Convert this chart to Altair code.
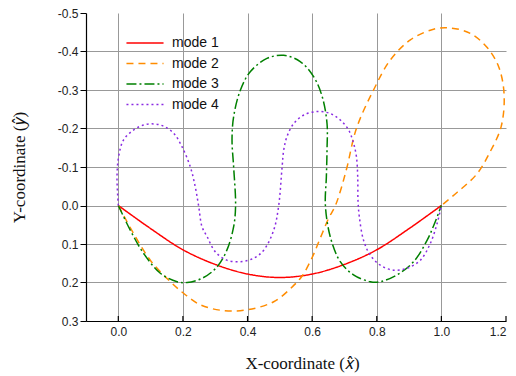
import altair as alt
import pandas as pd

modes = ["mode 1", "mode 2", "mode 3", "mode 4"]
colors = ["#ff0000", "#ff8c00", "#008000", "#8a2be2"]
dashes = [[1, 0], [7, 5], [10, 3, 2, 3], [2, 3]]

x1 = [0, 0.1, 0.2, 0.3, 0.4, 0.5, 0.6, 0.7, 0.8, 0.9, 1.0]
y1 = [0, 0.06, 0.115, 0.153, 0.178, 0.187, 0.178, 0.153, 0.115, 0.06, 0]

x2 = [0, 0.047, 0.099, 0.161, 0.202, 0.254, 0.326, 0.398, 0.481, 0.54, 0.569, 0.6,
      0.625, 0.65, 0.672, 0.69, 0.708, 0.737, 0.79, 0.842, 0.904, 0.976, 1.028,
      1.09, 1.141, 1.177, 1.194, 1.185, 1.15, 1.11, 1.05, 1.0]
y2 = [0, 0.072, 0.142, 0.198, 0.228, 0.258, 0.273, 0.271, 0.25, 0.21, 0.183, 0.135,
      0.085, 0.035, 0, -0.045, -0.1, -0.2, -0.3, -0.378, -0.43, -0.458, -0.461,
      -0.447, -0.411, -0.361, -0.29, -0.205, -0.138, -0.082, -0.035, 0]

x3 = [0, 0.037, 0.078, 0.13, 0.182, 0.213, 0.264, 0.306, 0.336, 0.357, 0.363, 0.357,
      0.352, 0.357, 0.378, 0.409, 0.46, 0.512, 0.563, 0.605, 0.631, 0.646, 0.646,
      0.644, 0.641, 0.656, 0.687, 0.728, 0.78, 0.811, 0.863, 0.914, 0.956, 0.981, 1.0]
y3 = [0, 0.064, 0.124, 0.176, 0.198, 0.2, 0.187, 0.159, 0.116, 0.055, 0.0, -0.1,
      -0.17, -0.231, -0.3, -0.348, -0.382, -0.39, -0.374, -0.334, -0.283, -0.213, -0.144,
      -0.075, 0.0, 0.081, 0.146, 0.18, 0.198, 0.198, 0.18, 0.146, 0.09, 0.042, 0]

x4 = [0, -0.004, 0.001, 0.016, 0.047, 0.078, 0.109, 0.14, 0.171, 0.197, 0.223, 0.238,
      0.249, 0.259, 0.275, 0.3, 0.336, 0.378, 0.419, 0.45, 0.481, 0.496, 0.507, 0.512,
      0.522, 0.543, 0.574, 0.615, 0.656, 0.687, 0.713, 0.728, 0.737, 0.741, 0.742,
      0.746, 0.759, 0.78, 0.811, 0.852, 0.894, 0.935, 0.966, 0.987, 1.0]
y4 = [0, -0.075, -0.127, -0.17, -0.196, -0.209, -0.212, -0.206, -0.188, -0.153, -0.1, -0.049,
      0.003, 0.055, 0.081, 0.12, 0.142, 0.146, 0.137, 0.116, 0.064, 0.003, -0.1, -0.144,
      -0.179, -0.213, -0.235, -0.244, -0.239, -0.222, -0.196, -0.162, -0.127, -0.075, -0.01,
      0.029, 0.09, 0.129, 0.155, 0.168, 0.163, 0.142, 0.098, 0.046, 0]

x_ticks = [0.0, 0.2, 0.4, 0.6, 0.8, 1.0, 1.2]
y_ticks = [-0.5, -0.4, -0.3, -0.2, -0.1, 0.0, 0.1, 0.2, 0.3]

rows = []
for name, xs, ys in zip(modes, [x1, x2, x3, x4], [y1, y2, y3, y4]):
    for i, (xv, yv) in enumerate(zip(xs, ys)):
        rows.append({"mode": name, "x": xv, "y": yv, "order": i})
df = pd.DataFrame(rows)
ticks_df = pd.DataFrame({"t": x_ticks})

W, H = 420, 308
lbl = "replace(format(datum.value,'.1f'),'\u2212','-')"

xscale = alt.Scale(domain=[-0.1, 1.2], nice=False, zero=False)
yscale = alt.Scale(domain=[-0.5, 0.3], nice=False, zero=False, reverse=True)

lines = alt.Chart(df).mark_line(strokeWidth=1.5, interpolate="catmull-rom").encode(
    x=alt.X("x:Q", scale=xscale,
            axis=alt.Axis(values=x_ticks, labelExpr=lbl, ticks=False, labelPadding=5,
                          labelFont="Liberation Sans", labelFontSize=12, labelColor="#222",
                          domainColor="#000", domainWidth=1.2,
                          gridColor="#999999", gridWidth=1,
                          gridOpacity={"condition": {"test": "datum.value > 1.15", "value": 0}, "value": 1},
                          title="X-coordinate (\U0001D465\u0302)", titleFont="Liberation Serif",
                          titleFontSize=17, titleFontWeight="normal", titleColor="#111",
                          titleX=216, titleY=42, titleBaseline="middle", titleAlign="center")),
    y=alt.Y("y:Q", scale=yscale,
            axis=alt.Axis(values=y_ticks, labelExpr=lbl, tickSize=6, tickColor="#000",
                          labelPadding=2, labelFont="Liberation Sans", labelFontSize=12,
                          labelColor="#222", domainColor="#000", domainWidth=1.2,
                          gridColor="#999999", gridWidth=1,
                          gridOpacity={"condition": {"test": "datum.value < -0.45", "value": 0}, "value": 1},
                          title="Y-coordinate (\U0001D466\u0302)", titleFont="Liberation Serif",
                          titleFontSize=17, titleFontWeight="normal", titleColor="#111",
                          titleX=-67, titleY=154, titleBaseline="middle", titleAlign="center",
                          titleAngle=270)),
    color=alt.Color("mode:N", scale=alt.Scale(domain=modes, range=colors),
                    legend=alt.Legend(title=None, orient="none", legendX=52, legendY=23,
                                      symbolType="M-5,0H5", symbolSize=55,
                                      symbolStrokeWidth=1.5, labelFont="Liberation Sans",
                                      labelFontSize=14, labelColor="#111", labelOffset=20,
                                      rowPadding=6.5, padding=0)),
    strokeDash=alt.StrokeDash("mode:N", scale=alt.Scale(domain=modes, range=dashes)),
    order="order:Q",
)

tick_marks = alt.Chart(ticks_df).mark_rule(color="#000", strokeWidth=1.2).encode(
    x=alt.X("t:Q", scale=xscale),
    y=alt.value(H),
    y2=alt.value(H - 5),
)

chart = alt.layer(lines, tick_marks).properties(
    width=W, height=H,
    padding={"left": 78, "top": 5, "right": 2, "bottom": 55},
    autosize="none",
).configure_view(stroke=None)

chart.save("out.html", embed_options={"renderer": "svg", "actions": False})
